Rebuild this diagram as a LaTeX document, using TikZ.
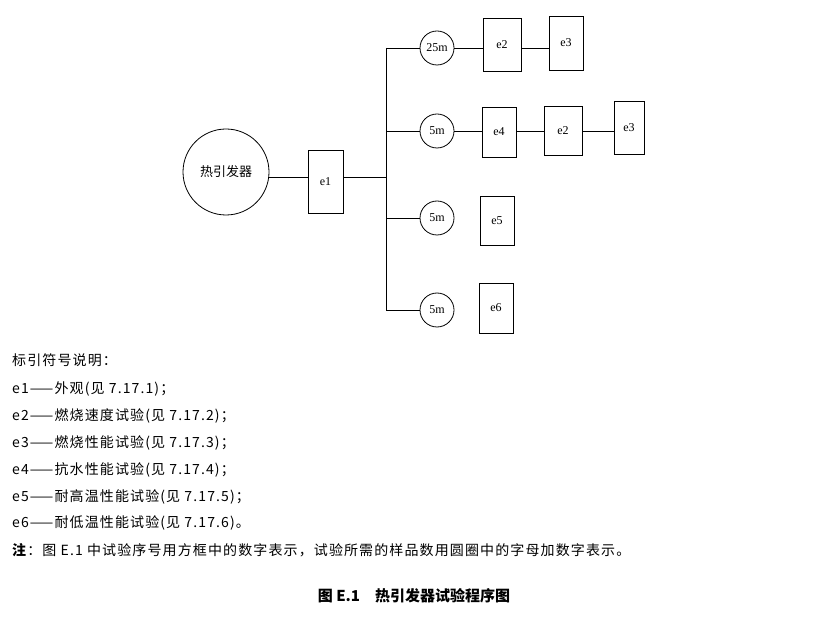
\documentclass[tikz,border=0pt]{standalone}
\usepackage{fontspec}
\setmainfont{Liberation Serif}
\newfontfamily\cjk[LetterSpace=8]{Noto Sans CJK SC}
\newfontfamily\cjkb{Noto Sans CJK SC}
\begin{document}
\begin{tikzpicture}[x=1pt,y=-1pt,
 bx/.style={draw,thick,minimum width=#1,inner sep=0pt,font=\fontsize{12}{14}\selectfont},
 cc/.style={draw,circle,thick,minimum size=34pt,inner sep=0pt,font=\fontsize{12}{14}\selectfont},
 ln/.style={thick},
 tx/.style={anchor=west,font=\cjk\fontsize{14}{16}\selectfont,inner sep=0pt}]
\useasboundingbox (0,0) rectangle (814,617);
\node[draw,circle,thick,minimum size=86pt,inner sep=0pt,font=\cjkb\fontsize{13}{15}\selectfont] (h) at (226,172) {热引发器};
\node[bx=35pt,minimum height=63pt] (e1) at (325.5,181.5) {e1};
\coordinate (j) at (386,177);
\coordinate (t1) at (386,48);\coordinate (t4) at (386,310);
\draw[ln] (h.east|-0,177) -- (e1.west|-0,177);
\draw[ln] (e1.east|-0,177) -- (j);
\draw[ln] (t1) -- (t4);
% row 1
\node[cc] (c1) at (437,48) {25m};
\node[bx=38pt,minimum height=53pt] (a2) at (502,44.5) {e2};
\node[bx=34pt,minimum height=54pt] (a3) at (566,43) {e3};
\draw[ln] (t1)--(c1) (c1)--(a2.west|-c1) (a2.east|-c1)--(a3.west|-c1);
% row 2
\coordinate (t2) at (386,131);
\node[cc] (c2) at (437,131) {5m};
\node[bx=34pt,minimum height=50pt] (b4) at (499,132) {e4};
\node[bx=38pt,minimum height=49pt] (b2) at (563,130.5) {e2};
\node[bx=30pt,minimum height=53pt] (b3) at (629,127.5) {e3};
\draw[ln] (t2)--(c2) (c2)--(b4.west|-c2) (b4.east|-c2)--(b2.west|-c2) (b2.east|-c2)--(b3.west|-c2);
% row 3
\coordinate (t3) at (386,218);
\node[cc] (c3) at (437,218) {5m};
\node[bx=34pt,minimum height=49pt] (d5) at (497,220.5) {e5};
\draw[ln] (t3)--(c3);
% row 4
\node[cc] (c4) at (437,310) {5m};
\node[bx=34pt,minimum height=50pt] (f6) at (496,308) {e6};
\draw[ln] (t4)--(c4);
% legend
\node[tx] (l0) at (12,360) {标引符号说明：};
\node[tx] (l1) at (12,389) {e1——外观(见 7.17.1)；};
\node[tx] (l2) at (12,416) {e2——燃烧速度试验(见 7.17.2)；};
\node[tx] (l3) at (12,443) {e3——燃烧性能试验(见 7.17.3)；};
\node[tx] (l4) at (12,470) {e4——抗水性能试验(见 7.17.4)；};
\node[tx] (l5) at (12,497) {e5——耐高温性能试验(见 7.17.5)；};
\node[tx] (l6) at (12,523) {e6——耐低温性能试验(见 7.17.6)。};
\node[tx] (n) at (12,550) {\textbf{注}：图 E.1 中试验序号用方框中的数字表示，试验所需的样品数用圆圈中的字母加数字表示。};
\node[font=\cjkb\bfseries\fontsize{15}{18}\selectfont] (cap) at (414,596) {图 E.1\quad 热引发器试验程序图};
\end{tikzpicture}
\end{document}
